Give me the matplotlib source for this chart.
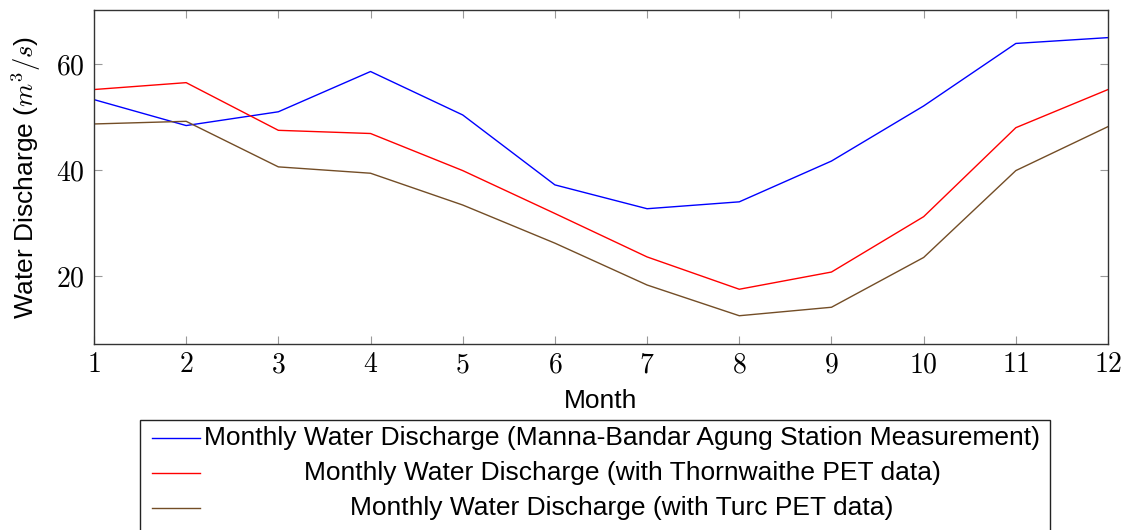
import matplotlib
matplotlib.use("Agg")
from matplotlib import pyplot as plt
from matplotlib.lines import Line2D
from matplotlib.patches import Rectangle

plt.rcParams['mathtext.fontset'] = 'cm'
plt.rcParams['font.family'] = ['Liberation Sans', 'DejaVu Sans']

months = list(range(1, 13))
measured = [53.3, 48.4, 51.0, 58.6, 50.4, 37.2, 32.7, 34.0, 41.7, 52.1, 63.9, 65.0]
thornwaithe = [55.2, 56.5, 47.5, 46.9, 39.9, 31.8, 23.6, 17.5, 20.75, 31.2, 48.0, 55.2]
turc = [48.7, 49.2, 40.6, 39.4, 33.4, 26.2, 18.3, 12.5, 14.1, 23.5, 39.9, 48.2]

labels = ["Monthly Water Discharge (Manna-Bandar Agung Station Measurement)",
          "Monthly Water Discharge (with Thornwaithe PET data)",
          "Monthly Water Discharge (with Turc PET data)"]
colors = ["#0000ff", "#ff0000", (0.45, 0.3, 0.15)]

fig = plt.figure(figsize=(11.28, 5.3), dpi=100)
ax = fig.add_axes([0.0833, 0.351, 0.899, 0.630])

for ys, c in zip([measured, thornwaithe, turc], colors):
    ax.plot(months, ys, color=c, lw=1.0)

ax.set_xlim(1, 12)
ax.set_ylim(7.17, 70.2)
ax.set_xticks(months)
ax.set_xticklabels(["$%d$" % m for m in months])
ax.set_yticks([20, 40, 60])
ax.set_yticklabels(["$20$", "$40$", "$60$"])
ax.tick_params(direction="in", length=6, color="#999999", labelsize=20,
               top=True, right=True)
ax.tick_params(axis="x", pad=6)
ax.tick_params(axis="y", pad=7)
for s in ax.spines.values():
    s.set_color("#333333")
    s.set_linewidth(1.0)

ax.set_xlabel("Month", fontsize=19, labelpad=8)
ax.set_ylabel("Water Discharge ($m^3/s$)", fontsize=19, labelpad=9)

# legend drawn by hand so entries are centred like pgfplots
W, H = 1128.0, 530.0
fig.patches.append(Rectangle((140 / W, -0.05), 910 / W, 1 - 420 / H + 0.05,
                             transform=fig.transFigure, fill=False,
                             edgecolor="#222222", lw=1.0))
rows = [438, 473, 508]
for y, lab, c in zip(rows, labels, colors):
    fig.lines.append(Line2D([152 / W, 200 / W], [1 - y / H, 1 - y / H],
                            transform=fig.transFigure, color=c, lw=1.0))
    fig.text(622 / W, 1 - y / H, lab, ha="center", va="center", fontsize=19)

fig.savefig("out.png", dpi=100)
